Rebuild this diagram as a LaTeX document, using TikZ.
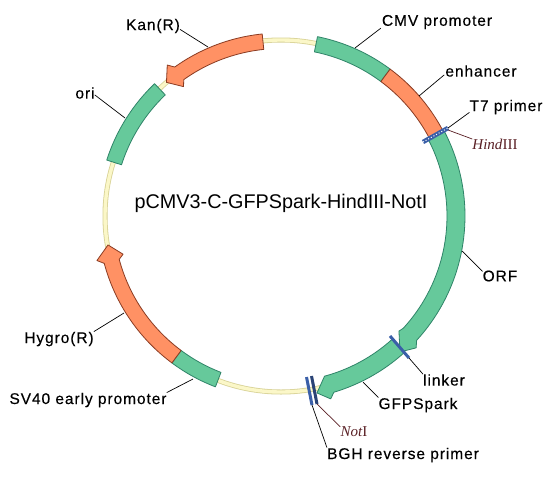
\documentclass[tikz,border=0pt]{standalone}
\usepackage{fontspec}
\setmainfont{Liberation Sans}
\newfontfamily\seriffont{Liberation Serif}
\newfontfamily\labfont[LetterSpace=6,FakeBold=0.25]{Liberation Sans}
\definecolor{greenfill}{HTML}{66C99B}
\definecolor{greenedge}{HTML}{2F8468}
\definecolor{orangefill}{HTML}{FF9164}
\definecolor{orangeedge}{HTML}{8A3B22}
\definecolor{backfill}{HTML}{FBF7C8}
\definecolor{backedge}{HTML}{D8D296}
\definecolor{sitecol}{HTML}{3A5FA8}
\definecolor{sitered}{HTML}{5A2025}
\def\Ri{167.5}\def\Ro{183}\def\Wi{162}\def\Wo{189}\def\Rt{176}
\newcommand{\band}[3]{\draw[#1] plot[domain=#2:#3,samples=40,variable=\t] ({281+\Ro*cos(\t)},{216-\Ro*sin(\t)}) -- plot[domain=#3:#2,samples=40,variable=\t] ({281+\Ri*cos(\t)},{216-\Ri*sin(\t)}) -- cycle;}
% style, start angle, junction angle, wing angle, tip angle
\newcommand{\arrowband}[5]{\draw[#1] plot[domain=#2:#3,samples=40,variable=\t] ({281+\Ro*cos(\t)},{216-\Ro*sin(\t)}) -- ({281+\Wo*cos(#4)},{216-\Wo*sin(#4)}) -- ({281+\Rt*cos(#5)},{216-\Rt*sin(#5)}) -- ({281+\Wi*cos(#4)},{216-\Wi*sin(#4)}) -- plot[domain=#3:#2,samples=40,variable=\t] ({281+\Ri*cos(\t)},{216-\Ri*sin(\t)}) -- cycle;}
\tikzset{
  lab/.style={inner sep=0pt,font=\fontsize{15.5}{17}\labfont},
  sitelab/.style={inner sep=0pt,text=sitered,font=\fontsize{15}{17}\seriffont},
  leader/.style={draw=black,line width=0.7pt},
  siteleader/.style={draw=sitered,line width=0.7pt},
  greenband/.style={fill=greenfill,draw=greenedge,line width=0.8pt,line join=round},
  orangeband/.style={fill=orangefill,draw=orangeedge,line width=0.8pt,line join=round},
  sitemark/.style={draw=sitecol,line width=3pt},
}
\begin{document}
\begin{tikzpicture}[x=1pt,y=-1pt]
\useasboundingbox (0,0) rectangle (556,479);
\fill[white] (0,0) rectangle (556,479);
% backbone
\draw[backedge,line width=5pt] (281,216) circle[radius=176];
\draw[backfill,line width=3.4pt] (281,216) circle[radius=176];
% features
\band{greenband}{78.5}{53.4}
\band{orangeband}{53.4}{27.4}
\band{greenband}{162.2}{133.7}
\band{greenband}{249}{233.4}
\arrowband{orangeband}{95.9}{125.5}{127}{130.6}
\def\Wi{162.5}\def\Wo{189.4}\def\Rt{175.4}
\arrowband{orangeband}{233.4}{195}{193.6}{189.5}
\def\Ri{166}\def\Ro{184}\def\Wi{164.8}\def\Wo{188.8}\def\Rt{180.7}
\arrowband{greenband}{27.4}{-42.5}{-44.3}{-48.8}
\def\Wi{166}\def\Wo{189.5}\def\Rt{180.6}
\arrowband{greenband}{-47.9}{-73.3}{-74.8}{-78.5}
% site marks
\coordinate (t7a) at (423,142);
\coordinate (t7b) at (448,128);
\draw[sitemark,line width=4.5pt] (t7a) -- (t7b);
\draw[white,line width=1pt,dotted] (t7a) -- (t7b);
\coordinate (linka) at (390,336);
\coordinate (linkb) at (409,358);
\draw[sitemark] (linka) -- (linkb);
\coordinate (bgha) at (306.5,377);
\coordinate (bghb) at (312,405);
\coordinate (nota) at (311.5,376);
\coordinate (notb) at (317,404);
\draw[sitemark] (bgha) -- (bghb);
\draw[sitemark,draw=sitecol!70!black] (nota) -- (notb);
% title
\node[inner sep=0pt,font=\fontsize{19.8}{22}\selectfont] (title) at (281,203) {pCMV3-C-GFPSpark-HindIII-NotI};
% labels
\node[lab] (cmv) at (437,22) {CMV promoter};
\node[lab] (enh) at (481,71) {enhancer};
\node[lab] (t7) at (506,107) {T7 primer};
\node[sitelab] (hind) at (495,144.5) {\textit{Hind}III};
\node[lab] (orf) at (500,276) {ORF};
\node[lab] (linker) at (444,380) {linker};
\node[lab] (gfp) at (418,405) {GFPSpark};
\node[sitelab] (noti) at (354,432) {\textit{Not}I};
\node[lab] (bgh) at (403,455) {BGH reverse primer};
\node[lab] (sv40) at (88,400) {SV40 early promoter};
\node[lab] (hyg) at (59,339) {Hygro(R)};
\node[lab] (ori) at (85,93) {ori};
\node[lab] (kan) at (153,26) {Kan(R)};
% leader anchors
\coordinate (cmvp) at (355,48);
\coordinate (enhp) at (419,96);
\coordinate (orfp) at (462,251);
\coordinate (gfpp) at (363,382);
\coordinate (sv40p) at (193,379);
\coordinate (hygp) at (124,313);
\coordinate (orip) at (125,118);
\coordinate (kanp) at (208,47);
\coordinate (hindp) at (448,130);
% leaders
\draw[leader] (cmv.south west) ++(-1,-1) -- (cmvp);
\draw[leader] (enh.south west) ++(-1,-2) -- (enhp);
\draw[leader] (t7.south west) ++(0,-2) -- (t7b);
\draw[siteleader] (hind.north west) -- (hindp);
\draw[leader] (orf.north west) ++(0,1) -- (orfp);
\draw[leader] (linker.north west) -- (linkb);
\draw[leader] (gfp.north west) -- (gfpp);
\draw[siteleader] (noti.north west) -- (notb);
\draw[leader] (bgh.north west) -- (bghb);
\draw[leader] (sv40.north east) -- (sv40p);
\draw[leader] (hyg.north east) -- (hygp);
\draw[leader] (ori.south east) ++(0,-4) -- (orip);
\draw[leader] (kan.south east) ++(0,-4) -- (kanp);
\end{tikzpicture}
\end{document}
